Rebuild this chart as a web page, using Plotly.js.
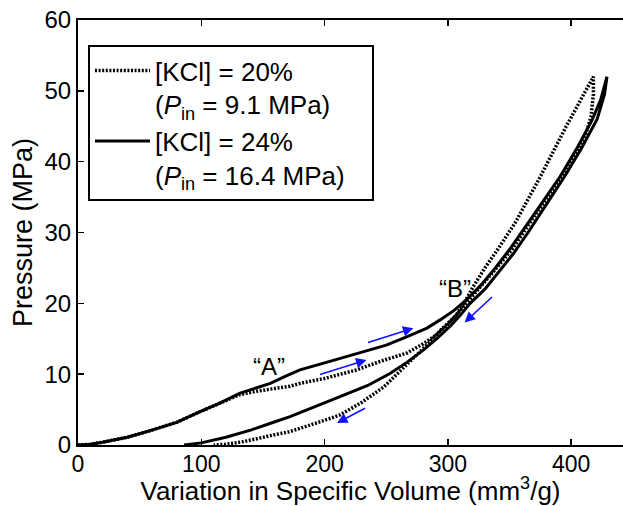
<!DOCTYPE html>
<html>
<head>
<meta charset="utf-8">
<script src="https://cdn.plot.ly/plotly-3.0.1.min.js"></script>
<style>html,body{margin:0;padding:0;background:#fff;}#chart{width:623px;height:506px;}</style>
</head>
<body>
<div id="chart"></div>
<script>
// [KCl] = 24 % : loading (upper) branch then unloading (lower) branch
var solidLoadX = [0, 10, 20, 40, 58, 80, 99, 115, 131, 145, 156, 168, 180, 200, 226, 250, 267, 283, 294, 305, 315, 327, 338, 350, 370, 391, 405, 417, 424, 429];
var solidLoadY = [0, 0.1, 0.4, 1.1, 2.0, 3.2, 4.7, 5.9, 7.3, 8.1, 8.7, 9.7, 10.6, 11.6, 12.9, 14.1, 15.3, 16.5, 17.7, 19.0, 20.5, 22.6, 24.9, 27.6, 32.6, 37.9, 42.0, 45.9, 48.8, 52.0];
var solidUnloadX = [429, 427, 421, 408, 395, 380, 365, 353, 340, 330, 318, 310, 302, 291, 280, 267, 253, 235, 212, 192, 172, 155, 140, 120, 100, 86];
var solidUnloadY = [52.0, 49.5, 46.0, 41.8, 38.0, 34.0, 30.0, 27.0, 24.2, 22.0, 20.0, 18.3, 16.8, 15.0, 13.4, 11.7, 10.1, 8.4, 6.8, 5.4, 4.0, 3.0, 2.1, 1.1, 0.3, 0];

// [KCl] = 20 % : loading (upper) branch then unloading (lower) branch
var dotLoadX = [0, 10, 20, 40, 58, 80, 99, 115, 131, 145, 156, 172, 180, 200, 226, 245, 267, 280, 291, 300, 307, 314, 320, 330, 340, 355, 375, 396, 418];
var dotLoadY = [0, 0.1, 0.4, 1.1, 2.0, 3.2, 4.7, 5.9, 7.1, 7.6, 7.9, 8.3, 8.7, 9.4, 10.6, 11.8, 13.0, 14.3, 15.6, 17.0, 18.4, 20.3, 22.2, 25.0, 27.5, 31.5, 37.9, 45.0, 52.0];
var dotUnloadX = [418, 418, 416, 412, 406, 392, 371, 352, 339, 328, 317, 306, 294, 284, 272, 260, 248, 230, 212, 195, 180, 172, 153, 135, 120, 110];
var dotUnloadY = [52.0, 49.5, 46.3, 44.0, 41.9, 37.9, 32.5, 27.6, 24.9, 22.6, 20.4, 18.2, 16.2, 14.3, 12.3, 10.3, 8.2, 6.0, 4.2, 3.2, 2.4, 1.9, 1.2, 0.5, 0.1, 0];

// blue direction arrows (tail -> head)
var arrowTailX = [234, 195, 234, 337];
var arrowTailY = [14.4, 9.9, 5.3, 21.1];
var arrowHeadX = [272, 234, 210, 313.5];
var arrowHeadY = [16.5, 12.0, 3.1, 17.3];

// point labels
var labelText = ['\u201cA\u201d', '\u201cB\u201d'];
var labelX = [155, 306];
var labelY = [11.1, 22.1];

var xTicks = [0, 100, 200, 300, 400];
var yTicks = [0, 10, 20, 30, 40, 50, 60];

var FONT = 'Liberation Sans, Arial, Helvetica, sans-serif';

var traces = [
  {
    x: dotLoadX.concat(dotUnloadX),
    y: dotLoadY.concat(dotUnloadY),
    mode: 'lines',
    name: '[KCl] = 20%<br>(<i>P</i><sub>in</sub> = 9.1 MPa)',
    line: {color: '#000', width: 3.5, dash: '2px,1.6px'},
    hoverinfo: 'skip'
  },
  {
    x: solidLoadX.concat(solidUnloadX),
    y: solidLoadY.concat(solidUnloadY),
    mode: 'lines',
    name: '[KCl] = 24%<br>(<i>P</i><sub>in</sub> = 16.4 MPa)&nbsp;&nbsp;&nbsp;',
    line: {color: '#000', width: 3},
    hoverinfo: 'skip'
  }
];

var annotations = [];
for (var i = 0; i < arrowHeadX.length; i++) {
  annotations.push({
    x: arrowHeadX[i], y: arrowHeadY[i], xref: 'x', yref: 'y',
    ax: arrowTailX[i], ay: arrowTailY[i], axref: 'x', ayref: 'y',
    text: '', showarrow: true, arrowhead: 2, arrowsize: 1.4, arrowwidth: 1.5,
    arrowcolor: '#1010ff', standoff: 0, startstandoff: 0
  });
}
for (var j = 0; j < labelText.length; j++) {
  annotations.push({
    x: labelX[j], y: labelY[j], xref: 'x', yref: 'y',
    text: labelText[j], showarrow: false,
    font: {family: FONT, size: 24, color: '#000'}
  });
}

var layout = {
  width: 623, height: 506,
  margin: {l: 78, r: 0, t: 20, b: 61, pad: 0},
  paper_bgcolor: '#fff', plot_bgcolor: '#fff',
  font: {family: FONT, color: '#000'},
  showlegend: true,
  legend: {
    x: 0.0183, y: 0.941, xanchor: 'left', yanchor: 'top',
    bordercolor: '#000', borderwidth: 2, bgcolor: '#fff',
    font: {family: FONT, size: 26, color: '#000'},
    valign: 'top', itemwidth: 55, tracegroupgap: 0
  },
  xaxis: {
    range: [0, 442], tickvals: xTicks, ticktext: xTicks.map(String),
    ticks: 'inside', ticklen: 6, tickwidth: 1.5, tickcolor: '#000',
    ticklabelstandoff: -3,
    showline: true, linewidth: 2, linecolor: '#000', mirror: 'ticks',
    showgrid: false, zeroline: false,
    tickfont: {family: FONT, size: 23, color: '#000'},
    title: {text: 'Variation in Specific Volume (mm<sup>3</sup>/g)', font: {family: FONT, size: 26, color: '#000'}, standoff: 0}
  },
  yaxis: {
    range: [0, 60], tickvals: yTicks, ticktext: yTicks.map(String),
    ticks: 'inside', ticklen: 6, tickwidth: 1.5, tickcolor: '#000',
    showline: true, linewidth: 2, linecolor: '#000', mirror: false,
    showgrid: false, zeroline: false,
    tickfont: {family: FONT, size: 24, color: '#000'},
    title: {text: 'Pressure (MPa)', font: {family: FONT, size: 27, color: '#000'}, standoff: 4}
  },
  annotations: annotations
};

Plotly.newPlot('chart', traces, layout, {staticPlot: true, displayModeBar: false});
</script>
</body>
</html>
